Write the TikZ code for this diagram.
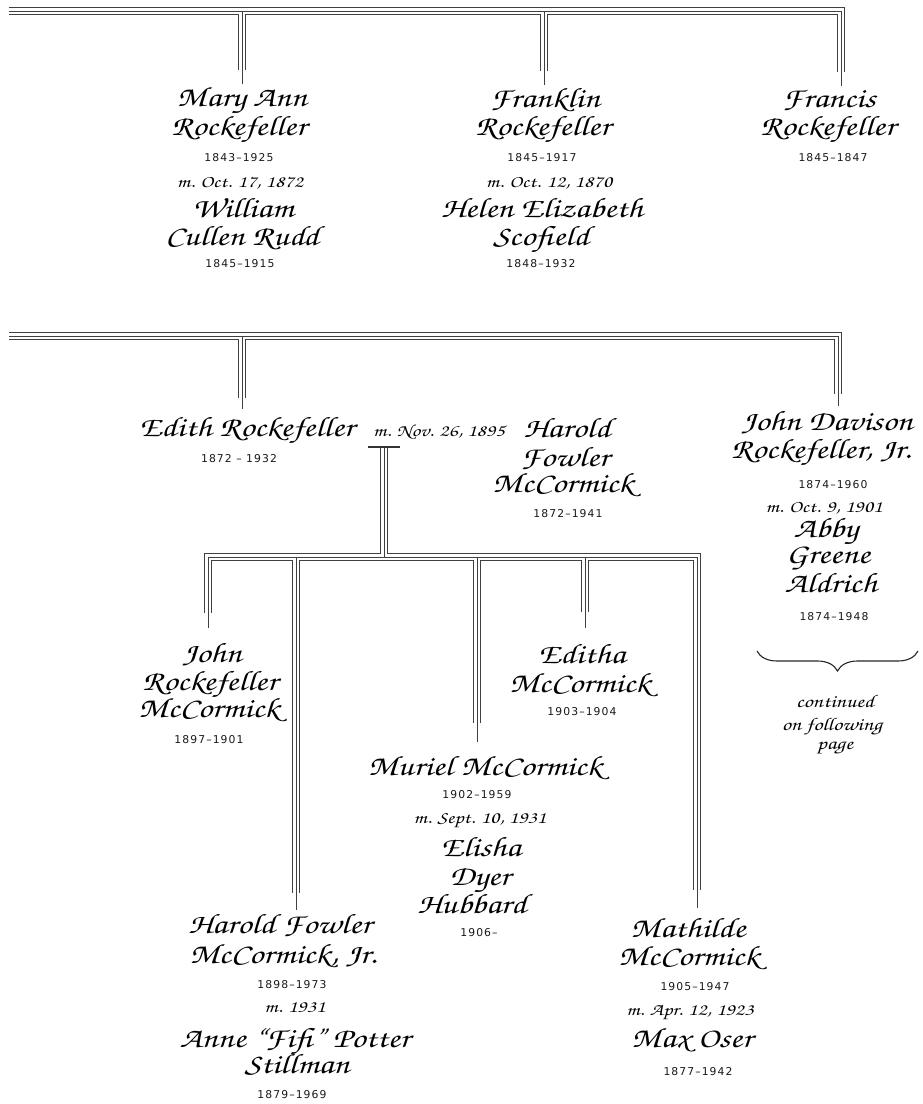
\documentclass[tikz,border=0pt]{standalone}
\usepackage{fontspec}
\usepackage{graphicx}
\usetikzlibrary{decorations.pathreplacing}
\newfontfamily\datefont[LetterSpace=10]{DejaVu Sans}
\newcommand\chan{\fontencoding{OT1}\fontfamily{pzc}\fontseries{mb}\fontshape{it}\selectfont}
\newcommand\NM[1]{\scalebox{1.25}[1]{#1}}
\newcommand\MR[1]{\scalebox{1.25}[1]{#1}}
\tikzset{
 nm/.style={anchor=base, inner sep=0pt, font=\chan\fontsize{28}{30}\selectfont},
 mr/.style={anchor=base, inner sep=0pt, font=\chan\fontsize{17}{19}\selectfont},
 ct/.style={anchor=base, inner sep=0pt, font=\chan\fontsize{18}{20}\selectfont},
 dt/.style={anchor=base, inner sep=0pt, font=\datefont\fontsize{10.8}{12}\selectfont, text=black!90},
 pipeA/.style={draw=black!75, line width=8.5pt, line join=miter},
 pipeB/.style={draw=white, line width=6.6pt, line join=miter},
 pipeC/.style={draw=black!75, line width=0.95pt, line join=miter},
}
\begin{document}
\begin{tikzpicture}[x=1pt,y=-1pt]
\fill[white] (0,0) rectangle (922,1104);
\useasboundingbox (0,0) rectangle (922,1104);
% ---------- coordinates of the connector system
\coordinate (t0) at (9,11);
\coordinate (tMA) at (242,11);
\coordinate (tFK) at (544,11);
\coordinate (tFR) at (841,11);
\coordinate (maO) at (242,70);  \coordinate (maI) at (242,84);
\coordinate (fkO) at (544,71);  \coordinate (fkI) at (544,85);
\coordinate (frO) at (841,72);  \coordinate (frI) at (841,86);
\coordinate (s0) at (9,336);
\coordinate (sED) at (242,336);
\coordinate (sJD) at (838,336);
\coordinate (edO) at (242,398); \coordinate (edI) at (242,409);
\coordinate (jdO) at (838,394); \coordinate (jdI) at (838,406);
\coordinate (mL) at (368,447);
\coordinate (mR) at (400,447);
\coordinate (mT) at (384,447);
\coordinate (cT) at (384,557);
\coordinate (cL) at (208,557);
\coordinate (cR) at (697,557);
\coordinate (cH) at (296,557);
\coordinate (cM) at (477,557);
\coordinate (cE) at (585,557);
\coordinate (jmO) at (208,613); \coordinate (jmI) at (208,628);
\coordinate (hjO) at (296,893); \coordinate (hjI) at (296,910);
\coordinate (muO) at (477,723); \coordinate (muI) at (477,742);
\coordinate (etO) at (585,612); \coordinate (etI) at (585,628);
\coordinate (mtO) at (697,890); \coordinate (mtI) at (697,908);
% ---------- triple-line connectors
\foreach \s in {pipeA,pipeB}{
 \draw[\s] (t0) -- (tFR) -- (frO) (tMA) -- (maO) (tFK) -- (fkO)
  (s0) -- (sJD) -- (jdO) (sED) -- (edO)
  (mT) -- (cT)
  (jmO) -- (cL) -- (cR) -- (mtO) (cH) -- (hjO) (cM) -- (muO) (cE) -- (etO);
}
\draw[pipeC] (t0) -- (tFR) -- (frI) (tMA) -- (maI) (tFK) -- (fkI)
  (s0) -- (sJD) -- (jdI) (sED) -- (edI)
  (mT) -- (cT)
  (jmI) -- (cL) -- (cR) -- (mtI) (cH) -- (hjI) (cM) -- (muI) (cE) -- (etI);
\draw[black!80, line width=2.2pt] (mL) -- (mR);
% ---------- top row
\node[nm] (maA) at (242,106) {\NM{Mary Ann}};
\node[nm] (maB) at (239,135) {\NM{Rockefeller}};
\node[dt] (maC) at (239,161) {1843–1925};
\node[mr] (maD) at (240,187) {\MR{m. Oct. 17, 1872}};
\node[nm] (maE) at (243,217) {\NM{William}};
\node[nm] (maF) at (242,245) {\NM{Cullen Rudd}};
\node[dt] (maG) at (240,267) {1845–1915};
\node[nm] (fkA) at (545,107) {\NM{Franklin}};
\node[nm] (fkB) at (543,135) {\NM{Rockefeller}};
\node[dt] (fkC) at (542,161) {1845–1917};
\node[mr] (fkD) at (549,187) {\MR{m. Oct. 12, 1870}};
\node[nm] (fkE) at (542,217) {\NM{Helen Elizabeth}};
\node[nm] (fkF) at (541,245) {\NM{Scofield}};
\node[dt] (fkG) at (541,267) {1848–1932};
\node[nm] (frA) at (829,107) {\NM{Francis}};
\node[nm] (frB) at (828,135) {\NM{Rockefeller}};
\node[dt] (frC) at (833,161) {1845–1847};
% ---------- second row
\node[nm] (edA) at (247,436) {\NM{Edith Rockefeller}};
\node[dt] (edB) at (239,462) {1872 – 1932};
\node[mr] (edM) at (439,436) {\MR{m. Nov. 26, 1895}};
\node[nm] (hfA) at (567,437) {\NM{Harold}};
\node[nm] (hfB) at (565,466) {\NM{Fowler}};
\node[nm] (hfC) at (563,492) {\NM{McCormick}};
\node[dt] (hfD) at (568,517) {1872–1941};
\node[nm] (jdA) at (827,430) {\NM{John Davison}};
\node[nm] (jdB) at (821,458) {\NM{Rockefeller, Jr.}};
\node[dt] (jdC) at (833,488) {1874–1960};
\node[mr] (jdD) at (824,512) {\MR{m. Oct. 9, 1901}};
\node[nm] (jdE) at (826,537) {\NM{Abby}};
\node[nm] (jdF) at (828,563) {\NM{Greene}};
\node[nm] (jdG) at (831,592) {\NM{Aldrich}};
\node[dt] (jdH) at (834,620) {1874–1948};
\coordinate (brL) at (757,651);
\coordinate (brR) at (918,651);
\draw[black!85, line width=1.1pt, decorate, decoration={brace, mirror, amplitude=20pt}] (brL) -- (brR);
\node[ct] (coA) at (835,707) {\MR{continued}};
\node[ct] (coB) at (832,730) {\MR{on following}};
\node[ct] (coC) at (835,749) {\MR{page}};
% ---------- children
\node[nm] (jmA) at (212,662) {\NM{John}};
\node[nm] (jmB) at (210,690) {\NM{Rockefeller}};
\node[nm] (jmC) at (209,717) {\NM{McCormick}};
\node[dt] (jmD) at (209,743) {1897–1901};
\node[nm] (etA) at (582,663) {\NM{Editha}};
\node[nm] (etB) at (580,692) {\NM{McCormick}};
\node[dt] (etC) at (582,715) {1903–1904};
\node[nm] (muA) at (485,775) {\NM{Muriel McCormick}};
\node[dt] (muB) at (477,798) {1902–1959};
\node[mr] (muC) at (480,823) {\MR{m. Sept. 10, 1931}};
\node[nm] (muD) at (481,856) {\NM{Elisha}};
\node[nm] (muE) at (480,885) {\NM{Dyer}};
\node[nm] (muF) at (472,913) {\NM{Hubbard}};
\node[dt] (muG) at (479,936) {1906–};
\node[nm] (hjA) at (280,933) {\NM{Harold Fowler}};
\node[nm] (hjB) at (283,963) {\NM{McCormick, Jr.}};
\node[dt] (hjC) at (292,988) {1898–1973};
\node[mr] (hjD) at (295,1012) {\MR{m. 1931}};
\node[nm] (hjE) at (295,1047) {\NM{Anne ``Fifi'' Potter}};
\node[nm] (hjF) at (297,1073) {\NM{Stillman}};
\node[dt] (hjG) at (292,1098) {1879–1969};
\node[nm] (mtA) at (688,937) {\NM{Mathilde}};
\node[nm] (mtB) at (689,965) {\NM{McCormick}};
\node[dt] (mtC) at (695,990) {1905–1947};
\node[mr] (mtD) at (690,1015) {\MR{m. Apr. 12, 1923}};
\node[nm] (mtE) at (692,1047) {\NM{Max Oser}};
\node[dt] (mtF) at (698,1075) {1877–1942};
\end{tikzpicture}
\end{document}
